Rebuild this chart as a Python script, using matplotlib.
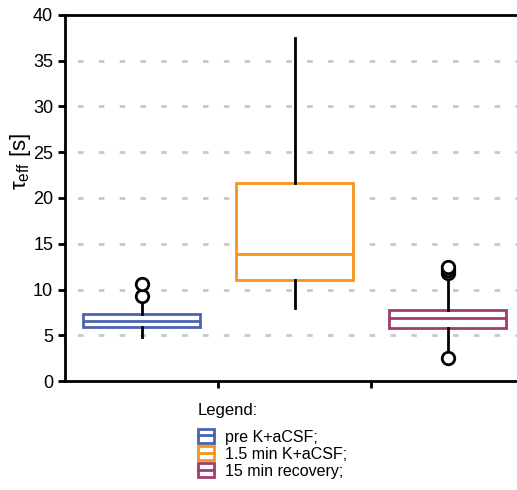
import matplotlib.pyplot as plt
from matplotlib.patches import Patch
from matplotlib.lines import Line2D

plt.rcParams['font.family'] = ['Liberation Sans', 'DejaVu Sans']

labels = ['pre K+aCSF;', '1.5 min K+aCSF;', '15 min recovery;']
colors = ['#4a65ad', '#f7941d', '#9e3d6e']
q1 = [5.9, 11.0, 5.75]
med = [6.55, 13.9, 6.85]
q3 = [7.3, 21.6, 7.8]
wlo = [4.8, 8.0, 3.4]
whi = [8.8, 37.5, 11.7]
fliers = [[9.3, 10.6], [], [2.5, 11.8, 12.1, 12.5]]

fig = plt.figure(figsize=(5.17, 4.9), dpi=100)
ax = fig.add_axes([65 / 517, 109 / 490, 459 / 517, 366 / 490])

stats = []
for i in range(3):
    stats.append(dict(q1=q1[i], med=med[i], q3=q3[i], whislo=wlo[i],
                      whishi=whi[i], fliers=fliers[i]))

for i, s in enumerate(stats):
    ax.bxp([s], positions=[i], widths=[0.77], showcaps=False,
           patch_artist=True,
           boxprops=dict(facecolor='white', edgecolor=colors[i], lw=2),
           medianprops=dict(color=colors[i], lw=2),
           whiskerprops=dict(color='black', lw=2),
           flierprops=dict(marker='o', markerfacecolor='white',
                           markeredgecolor='black', markersize=9,
                           markeredgewidth=2),
           manage_ticks=False, zorder=3)

ax.set_xlim(-0.5, 2.5)
ax.set_ylim(0, 40)
ax.set_yticks(range(0, 45, 5))
ax.set_xticks([0.5, 1.5])
ax.set_xticklabels([])
ax.tick_params(axis='y', labelsize=13, width=2, length=5)
ax.tick_params(axis='x', width=2, length=5)
for y in range(5, 40, 5):
    ax.axhline(y, color='#c8c8c8', lw=2, ls=(3, (2, 5.5)), zorder=1)
for sp in ['left', 'bottom', 'top']:
    ax.spines[sp].set_linewidth(2)
ax.spines['right'].set_visible(False)
ax.set_ylabel(r'$\mathregular{\tau_{eff}}$ [s]', fontsize=16)
ax.yaxis.set_label_coords(-0.069, 0.6)

fig.text(198 / 517, 1 - 411 / 490, 'Legend:', fontsize=12, va='center')
handles = [(Patch(facecolor='white', edgecolor=c, lw=2),
            Line2D([], [], color=c, lw=2)) for c in colors]
fig.legend(handles, labels, loc='upper left',
           bbox_to_anchor=(184 / 517, 1 - 415 / 490), frameon=False,
           fontsize=11.5, handlelength=1.0, handleheight=0.9,
           handletextpad=0.65, labelspacing=0.12)

fig.savefig('out.png', dpi=100)
